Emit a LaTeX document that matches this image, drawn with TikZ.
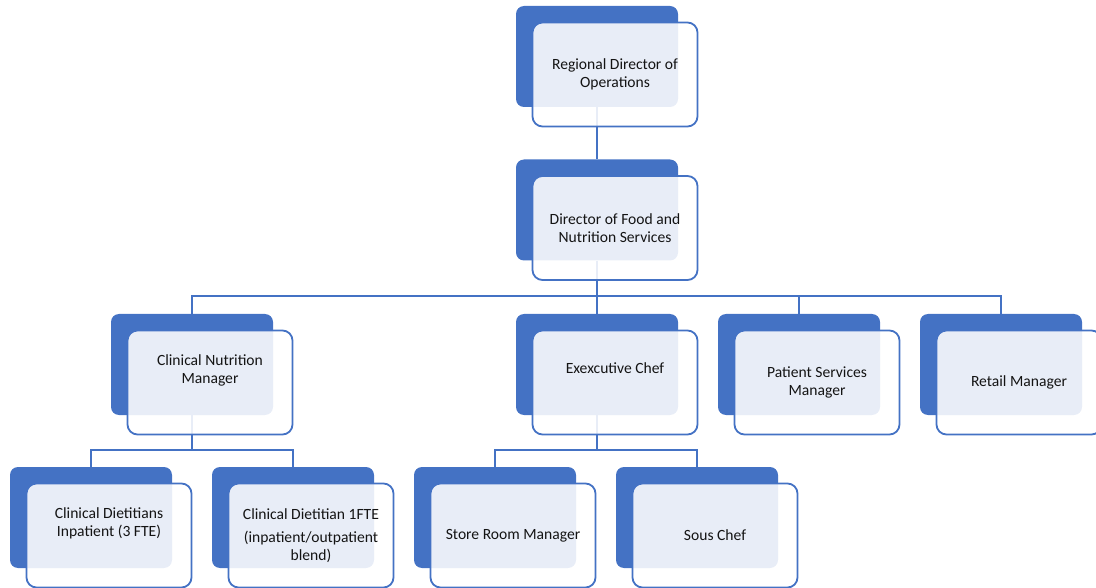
\documentclass[tikz,border=0pt]{standalone}
\usepackage{fontspec}
\setmainfont{Carlito}
\usetikzlibrary{positioning, backgrounds}
\definecolor{orgblue}{HTML}{4472C4}

\begin{document}
\begin{tikzpicture}[
    x=1pt, y=-1pt,
    rearbox/.style={rectangle, rounded corners=8pt, fill=orgblue, minimum width=162pt, minimum height=101pt, inner sep=0pt},
    frontbox/.style={rectangle, rounded corners=10pt, draw=orgblue, line width=1.8pt, fill=white, fill opacity=0.88, minimum width=165pt, minimum height=104pt, inner sep=0pt},
    orgtext/.style={align=center, font=\fontsize{15.6}{18}\selectfont, text=black!92},
    link/.style={draw=orgblue, line width=1.8pt}
]
\useasboundingbox (0,0) rectangle (1096,588);

\node[rearbox] (reg-b) at (597,56.5) {};
\node[frontbox] (reg) at ([shift={(18,18)}]reg-b.center) {};
\node[orgtext] (reg-t) at (reg.center) {Regional Director of\\Operations};

\node[rearbox] (dir-b) at (597,210) {};
\node[frontbox] (dir) at ([shift={(18,18)}]dir-b.center) {};
\node[orgtext] (dir-t) at (dir.center) {Director of Food and\\Nutrition Services};

\node[rearbox] (cnm-b) at (192,364.5) {};
\node[frontbox] (cnm) at ([shift={(18,18)}]cnm-b.center) {};
\node[orgtext, yshift=12pt] (cnm-t) at (cnm.center) {Clinical Nutrition\\Manager};

\node[rearbox] (chef-b) at (597,364.5) {};
\node[frontbox] (chef) at ([shift={(18,18)}]chef-b.center) {};
\node[orgtext, yshift=14pt] (chef-t) at (chef.center) {Exexcutive Chef};

\node[rearbox] (psm-b) at (799,364.5) {};
\node[frontbox] (psm) at ([shift={(18,18)}]psm-b.center) {};
\node[orgtext] (psm-t) at (psm.center) {Patient Services\\Manager};

\node[rearbox] (ret-b) at (1001,364.5) {};
\node[frontbox] (ret) at ([shift={(18,18)}]ret-b.center) {};
\node[orgtext] (ret-t) at (ret.center) {Retail Manager};

\node[rearbox] (cdi-b) at (91,517.5) {};
\node[frontbox] (cdi) at ([shift={(18,18)}]cdi-b.center) {};
\node[orgtext, yshift=12pt] (cdi-t) at (cdi.center) {Clinical Dietitians\\Inpatient (3 FTE)};

\node[rearbox] (cdb-b) at (293,517.5) {};
\node[frontbox] (cdb) at ([shift={(18,18)}]cdb-b.center) {};
\node[orgtext] (cdb-t) at (cdb.center) {Clinical Dietitian 1FTE\\[5pt](inpatient/outpatient\\blend)};

\node[rearbox] (srm-b) at (495,517.5) {};
\node[frontbox] (srm) at ([shift={(18,18)}]srm-b.center) {};
\node[orgtext] (srm-t) at (srm.center) {Store Room Manager};

\node[rearbox] (sous-b) at (697,517.5) {};
\node[frontbox] (sous) at ([shift={(18,18)}]sous-b.center) {};
\node[orgtext] (sous-t) at (sous.center) {Sous Chef};

\coordinate (bus-a) at (597,296);
\coordinate (bus-b) at (192,450);
\coordinate (bus-c) at (597,450);

\begin{scope}[on background layer]
\draw[link] (reg-b.south) -- (dir-b.north);

\draw[link] (dir-b.south) -- (bus-a);
\draw[link] (bus-a) -| (cnm-b.north);
\draw[link] (bus-a) -- (chef-b.north);
\draw[link] (bus-a) -| (psm-b.north);
\draw[link] (bus-a) -| (ret-b.north);

\draw[link] (cnm-b.south) -- (bus-b);
\draw[link] (bus-b) -| (cdi-b.north);
\draw[link] (bus-b) -| (cdb-b.north);

\draw[link] (chef-b.south) -- (bus-c);
\draw[link] (bus-c) -| (srm-b.north);
\draw[link] (bus-c) -| (sous-b.north);
\end{scope}

\end{tikzpicture}
\end{document}
